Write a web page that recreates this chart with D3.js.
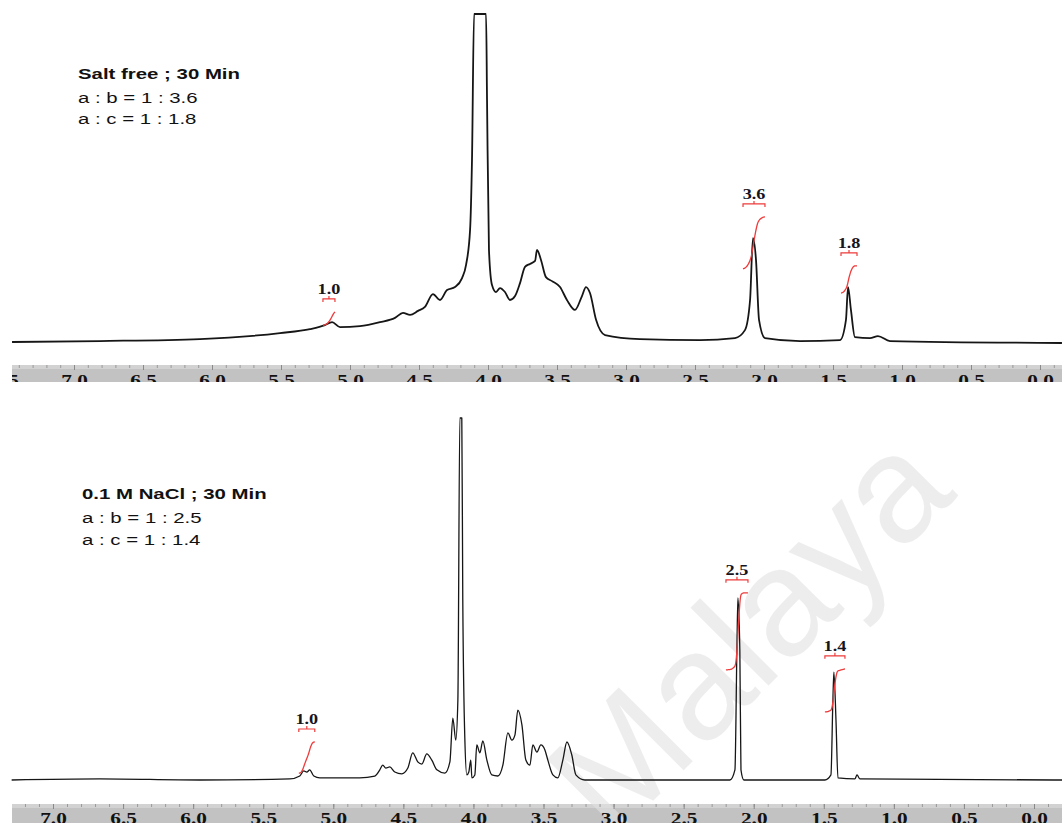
<!DOCTYPE html>
<html>
<head>
<meta charset="utf-8">
<script src="https://cdn.jsdelivr.net/npm/d3@7"></script>
<style>
  body { margin: 0; background: #fff; }
  svg { display: block; }
</style>
</head>
<body>
<div id="chart"></div>
<script>
// --- Spectrum data (ppm, intensity; 100 = top of the panel, taller peaks are clipped) ---
const topPpm = [7.449, 6.812, 6.087, 5.507, 5.290, 5.181, 5.130, 5.072, 4.928, 4.783, 4.674, 4.616, 4.565, 4.507, 4.457,
  4.399, 4.348, 4.297, 4.239, 4.188, 4.159, 4.130, 4.116, 4.101, 4.058, 4.014, 4.007, 3.993, 3.971, 3.942, 3.913, 3.877,
  3.841, 3.804, 3.768, 3.732, 3.696, 3.659, 3.645, 3.616, 3.580, 3.536, 3.478, 3.428, 3.370, 3.319, 3.290, 3.261, 3.217,
  3.152, 2.899, 2.464, 2.210, 2.138, 2.101, 2.080, 2.058, 2.036, 1.993, 1.739, 1.449, 1.406, 1.391, 1.370, 1.341, 1.232,
  1.174, 1.087, -0.159];
const topInt = [0.9, 1.2, 1.8, 3.6, 4.8, 6.0, 6.9, 5.4, 5.7, 6.9, 8.2, 9.7, 9.1, 10.3, 11.5,
  15.4, 13.6, 16.6, 17.5, 20.2, 24.2, 34.7, 55.9, 100, 130, 100, 74.0, 28.7, 18.1, 16.0, 17.2, 16.0,
  13.6, 14.8, 18.7, 23.6, 24.5, 25.4, 28.7, 25.7, 20.5, 19.3, 17.5, 13.6, 10.6, 14.8, 17.5, 15.7, 7.6,
  3.0, 1.8, 1.5, 2.1, 4.5, 13.6, 32.3, 25.7, 7.6, 2.1, 1.2, 1.5, 7.6, 17.5, 10.6, 2.4, 2.1,
  2.7, 1.2, 0.6];

const botPpm = [7.295, 6.667, 5.953, 5.310, 5.239, 5.211, 5.189, 5.168, 5.139, 5.096, 4.811, 4.704, 4.668, 4.647, 4.625,
  4.597, 4.561, 4.511, 4.468, 4.433, 4.397, 4.368, 4.333, 4.297, 4.261, 4.204, 4.168, 4.147, 4.126, 4.111,
  4.097, 4.090, 4.083, 4.076, 4.061, 4.047, 4.033, 4.019, 4.011, 3.990, 3.976, 3.954, 3.933, 3.904, 3.869,
  3.826, 3.790, 3.754, 3.726, 3.704, 3.683, 3.654, 3.626, 3.597, 3.576, 3.547, 3.519, 3.490, 3.469, 3.433,
  3.398, 3.362, 3.333, 3.298, 3.269, 3.205, 2.384, 2.170, 2.134, 2.120, 2.113, 2.099, 2.091, 2.070, 1.492,
  1.449, 1.435, 1.428, 1.413, 1.399, 1.278, 1.263, 1.242, -0.200];
const botInt = [0, 0.3, 0, 0.3, 1.1, 2.5, 2.2, 2.8, 1.1, 0.6, 0.6, 1.1, 2.8, 4.1, 3.3,
  3.6, 2.2, 1.7, 3.3, 7.5, 5.0, 4.4, 7.2, 5.5, 2.8, 1.9, 5.0, 17.1, 11.0, 22.1,
  100, 110, 100, 49.7, 11.0, 1.4, 2.2, 5.5, 0.6, 1.4, 9.7, 7.5, 10.8, 5.5, 1.4,
  1.1, 4.1, 13.0, 11.0, 12.4, 19.3, 15.2, 5.5, 4.1, 9.7, 7.7, 9.7, 8.3, 5.5, 1.4,
  0.6, 5.5, 10.5, 6.9, 1.4, 0, -0.3, 0, 2.8, 35.9, 50.3, 35.9, 2.8, -0.3, -0.3,
  1.4, 22.1, 29.8, 16.6, 0.6, 0.3, 1.4, 0.3, -0.3];

// integration regions: [from ppm, to ppm, curve start level, curve end level, label]
const topIntegrals = [[5.196, 5.109, 6.0, 10.0, '1.0'], [2.152, 1.993, 23.0, 38.7, '3.6'], [1.442, 1.326, 15.7, 23.9, '1.8']];
const botIntegrals = [[5.246, 5.132, 1.9, 10.5, '1.0'], [2.198, 2.041, 30.4, 51.7, '2.5'], [1.492, 1.349, 18.8, 30.7, '1.4']];

const tickLabels = ['7.5', '7.0', '6.5', '6.0', '5.5', '5.0', '4.5', '4.0', '3.5', '3.0', '2.5', '2.0', '1.5', '1.0', '0.5', '0.0'];
const topTitle = ['Salt free ; 30 Min', 'a : b = 1 : 3.6', 'a : c = 1 : 1.8'];
const botTitle = ['0.1 M NaCl ; 30 Min', 'a : b = 1 : 2.5', 'a : c = 1 : 1.4'];
const watermark = 'Malaya';

// --- Layout ---
const W = 1062, H = 823;
const svg = d3.select('#chart').append('svg').attr('width', W).attr('height', H);

const panels = [
  {
    ppm: topPpm, ints: topInt, integrals: topIntegrals, title: topTitle,
    x: d3.scaleLinear().domain([7, 0]).range([74, 1040]),
    y: d3.scaleLinear().domain([0, 100]).range([345, 14]).clamp(true),
    barTop: 365, barBottom: 382, labelY: 386, titleX: 78, titleY: [79, 103, 124], lineW: 1.8
  },
  {
    ppm: botPpm, ints: botInt, integrals: botIntegrals, title: botTitle,
    x: d3.scaleLinear().domain([7, 0]).range([53, 1034]),
    y: d3.scaleLinear().domain([0, 100]).range([780, 418]).clamp(true),
    barTop: 804, barBottom: 823, labelY: 824, titleX: 82, titleY: [499, 523, 545], lineW: 1.3
  }
];

// --- Axis bars (background) ---
panels.forEach(p => {
  svg.append('rect').attr('x', 12).attr('y', p.barTop).attr('width', W - 12).attr('height', p.barBottom - p.barTop)
    .attr('fill', '#c2c2c2');
  svg.append('rect').attr('x', 12).attr('y', p.barTop).attr('width', W - 12).attr('height', 4)
    .attr('fill', '#d2d2d2');
});

// --- Watermark ---
svg.append('text')
  .attr('transform', 'translate(612,842) rotate(-45)')
  .attr('font-family', '"Liberation Sans", Arial, sans-serif')
  .attr('font-size', 152)
  .attr('fill', '#e2e2e2')
  .attr('opacity', 0.6)
  .text(watermark);

// --- Axis ticks and labels ---
panels.forEach((p, k) => {
  const clipId = 'axclip' + k;
  svg.append('clipPath').attr('id', clipId)
    .append('rect').attr('x', 12).attr('y', p.barTop).attr('width', W - 12).attr('height', p.barBottom - p.barTop);
  const g = svg.append('g').attr('clip-path', `url(#${clipId})`);

  // minor ticks
  g.append('g')
    .attr('transform', `translate(0,${p.barTop})`)
    .call(d3.axisBottom(p.x).tickValues(d3.range(-2, 76).map(i => i / 10)).tickSize(3).tickFormat(''))
    .call(s => s.select('.domain').remove())
    .selectAll('line').attr('stroke', '#9a9a9a');

  // labelled ticks
  const ax = g.append('g')
    .attr('transform', `translate(0,${p.barTop})`)
    .call(d3.axisBottom(p.x).tickValues(tickLabels.map(Number)).tickSize(5).tickFormat((d, i) => tickLabels[i]))
    .call(s => s.select('.domain').remove());
  ax.selectAll('line').attr('stroke', '#8a8a8a');
  ax.selectAll('text')
    .attr('y', p.labelY - p.barTop).attr('dy', 0)
    .attr('transform', 'scale(1.25,1)')
    .attr('fill', '#111')
    .attr('font-family', '"Liberation Serif", "Times New Roman", serif')
    .attr('font-weight', 'bold')
    .attr('font-size', 17);
});

// --- Spectra, integrals, titles ---
function interp(ppm, ints, v) {
  for (let i = 0; i < ppm.length - 1; i++) {
    if (v <= ppm[i] && v >= ppm[i + 1]) {
      const t = (ppm[i] - v) / (ppm[i] - ppm[i + 1]);
      return ints[i] + t * (ints[i + 1] - ints[i]);
    }
  }
  return 0;
}

function integralCurve(p, from, to, n) {
  const base = Math.min(interp(p.ppm, p.ints, from), interp(p.ppm, p.ints, to));
  const pts = [];
  let acc = 0, prev = 0;
  for (let k = 0; k <= n; k++) {
    const v = from + (to - from) * k / n;
    const h = Math.max(0, interp(p.ppm, p.ints, v) - base);
    if (k > 0) acc += (prev + h) / 2;
    prev = h;
    pts.push([v, acc]);
  }
  return pts.map((d, k) => [d[0], acc > 0 ? d[1] / acc : k / n]);
}

panels.forEach(p => {
  const line = d3.line()
    .curve(d3.curveMonotoneX)
    .x((d, i) => p.x(p.ppm[i]))
    .y((d, i) => p.y(p.ints[i]));
  svg.append('path')
    .datum(p.ints)
    .attr('fill', 'none')
    .attr('stroke', '#161616')
    .attr('stroke-width', p.lineW)
    .attr('stroke-linejoin', 'round')
    .attr('d', line);

  p.integrals.forEach(r => {
    const [from, to, lo, hi, label] = r;
    const pts = integralCurve(p, from, to, 40);
    svg.append('path')
      .datum(pts)
      .attr('fill', 'none')
      .attr('stroke', '#ee3b3b')
      .attr('stroke-width', 1.3)
      .attr('d', d3.line().curve(d3.curveBasis)
        .x(d => p.x(d[0]))
        .y(d => p.y(lo + d[1] * (hi - lo))));

    const x0 = p.x(from), x1 = p.x(to), xm = (x0 + x1) / 2;
    const yb = p.y(hi) - 13;
    svg.append('path')
      .attr('fill', 'none')
      .attr('stroke', '#ee3b3b')
      .attr('stroke-width', 1.2)
      .attr('d', `M${x0},${yb + 3}V${yb}H${x1}V${yb + 3}M${xm},${yb}V${yb - 3}`);
    svg.append('text')
      .attr('transform', `translate(${xm},${yb - 5}) scale(1.3,1)`)
      .attr('text-anchor', 'middle')
      .attr('font-family', '"Liberation Serif", "Times New Roman", serif')
      .attr('font-weight', 'bold')
      .attr('font-size', 14)
      .attr('fill', '#15151f')
      .text(label);
  });

  p.title.forEach((t, i) => {
    svg.append('text')
      .attr('transform', `translate(${p.titleX},${p.titleY[i]}) scale(1.36,1)`)
      .attr('font-family', '"Liberation Sans", Arial, sans-serif')
      .attr('font-weight', i === 0 ? 'bold' : 'normal')
      .attr('font-size', 15)
      .attr('fill', '#111')
      .text(t);
  });
});
</script>
</body>
</html>
